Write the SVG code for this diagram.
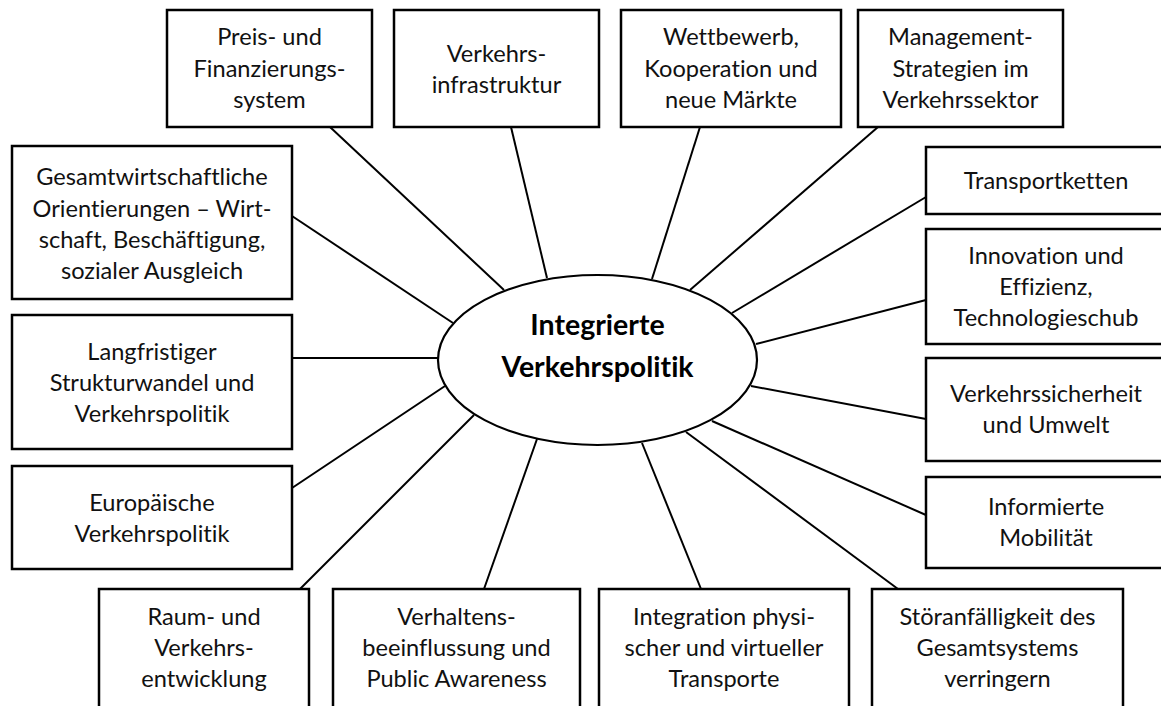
<svg xmlns="http://www.w3.org/2000/svg" width="1161" height="706" viewBox="0 0 1161 706">
  <style>
    .box { fill: #fff; stroke: #000; stroke-width: 2.5; }
    .hub { fill: #fff; stroke: #000; stroke-width: 2.2; }
    .lbl, .hubl { font-family: Lato, "Open Sans", "Liberation Sans", sans-serif; text-anchor: middle; font-variant-ligatures: none; font-feature-settings: "liga" 0, "clig" 0; }
    .lbl { font-size: 23.6px; fill: #111; }
    .hubl { font-size: 28.5px; font-weight: bold; fill: #000; }
    .conn line { stroke: #000; stroke-width: 2; }
  </style>
  <rect width="1161" height="706" fill="#fff"/>

  <!-- connectors: box edge to hub ellipse -->
  <g id="connectors" class="conn">
    <line x1="330" y1="127" x2="504" y2="290"/>
    <line x1="511" y1="127" x2="547" y2="278"/>
    <line x1="700" y1="127" x2="652" y2="279"/>
    <line x1="878" y1="127" x2="690" y2="290"/>
    <line x1="926" y1="197" x2="732" y2="313"/>
    <line x1="926" y1="300" x2="756" y2="344"/>
    <line x1="926" y1="419" x2="751" y2="386"/>
    <line x1="926" y1="515" x2="712" y2="421"/>
    <line x1="898" y1="589" x2="686" y2="432"/>
    <line x1="701" y1="589" x2="642" y2="443"/>
    <line x1="484" y1="589" x2="537" y2="439"/>
    <line x1="300" y1="589" x2="474" y2="415"/>
    <line x1="292" y1="488" x2="445" y2="386"/>
    <line x1="292" y1="358" x2="438" y2="358"/>
    <line x1="292" y1="216" x2="453" y2="323"/>
  </g>

  <g id="hub">
    <ellipse class="hub" cx="597.5" cy="360" rx="159.5" ry="85"/>
    <text class="hubl" x="597.5" y="335">Integrierte</text>
    <text class="hubl" x="597.5" y="377">Verkehrspolitik</text>
  </g>

  <g id="preis">
    <rect class="box" x="167" y="10" width="205" height="117"/>
    <text class="lbl" x="269.5" y="45">Preis- und</text>
    <text class="lbl" x="269.5" y="77">Finanzierungs-</text>
    <text class="lbl" x="269.5" y="108">system</text>
  </g>
  <g id="infrastruktur">
    <rect class="box" x="394" y="10" width="205" height="117"/>
    <text class="lbl" x="496.5" y="61.5">Verkehrs-</text>
    <text class="lbl" x="496.5" y="93">infrastruktur</text>
  </g>
  <g id="wettbewerb">
    <rect class="box" x="621" y="10" width="220" height="117"/>
    <text class="lbl" x="731" y="45">Wettbewerb,</text>
    <text class="lbl" x="731" y="77">Kooperation und</text>
    <text class="lbl" x="731" y="108">neue Märkte</text>
  </g>
  <g id="management">
    <rect class="box" x="858" y="10" width="205" height="117"/>
    <text class="lbl" x="960.5" y="45">Management-</text>
    <text class="lbl" x="960.5" y="77">Strategien im</text>
    <text class="lbl" x="960.5" y="108">Verkehrssektor</text>
  </g>

  <g id="transportketten">
    <rect class="box" x="926" y="147" width="240" height="67"/>
    <text class="lbl" x="1046" y="189">Transportketten</text>
  </g>
  <g id="innovation">
    <rect class="box" x="926" y="229" width="240" height="115"/>
    <text class="lbl" x="1046" y="264">Innovation und</text>
    <text class="lbl" x="1046" y="295">Effizienz,</text>
    <text class="lbl" x="1046" y="326">Technologieschub</text>
  </g>
  <g id="sicherheit">
    <rect class="box" x="926" y="358" width="240" height="103"/>
    <text class="lbl" x="1046" y="402">Verkehrssicherheit</text>
    <text class="lbl" x="1046" y="433">und Umwelt</text>
  </g>
  <g id="mobilitaet">
    <rect class="box" x="926" y="477" width="240" height="91"/>
    <text class="lbl" x="1046" y="515">Informierte</text>
    <text class="lbl" x="1046" y="546">Mobilität</text>
  </g>

  <g id="gesamtwirtschaft">
    <rect class="box" x="12" y="146" width="280" height="153"/>
    <text class="lbl" x="152" y="185">Gesamtwirtschaftliche</text>
    <text class="lbl" x="152" y="216.5">Orientierungen – Wirt-</text>
    <text class="lbl" x="152" y="248">schaft, Beschäftigung,</text>
    <text class="lbl" x="152" y="279">sozialer Ausgleich</text>
  </g>
  <g id="strukturwandel">
    <rect class="box" x="12" y="315" width="280" height="134"/>
    <text class="lbl" x="152" y="360">Langfristiger</text>
    <text class="lbl" x="152" y="391">Strukturwandel und</text>
    <text class="lbl" x="152" y="422">Verkehrspolitik</text>
  </g>
  <g id="europa">
    <rect class="box" x="12" y="466" width="280" height="103"/>
    <text class="lbl" x="152" y="511">Europäische</text>
    <text class="lbl" x="152" y="541.5">Verkehrspolitik</text>
  </g>

  <g id="raum">
    <rect class="box" x="99" y="589" width="210" height="125"/>
    <text class="lbl" x="204" y="625">Raum- und</text>
    <text class="lbl" x="204" y="656">Verkehrs-</text>
    <text class="lbl" x="204" y="687">entwicklung</text>
  </g>
  <g id="verhalten">
    <rect class="box" x="333" y="589" width="247" height="125"/>
    <text class="lbl" x="456.5" y="625">Verhaltens-</text>
    <text class="lbl" x="456.5" y="656">beeinflussung und</text>
    <text class="lbl" x="456.5" y="687">Public Awareness</text>
  </g>
  <g id="integration">
    <rect class="box" x="599" y="589" width="250" height="125"/>
    <text class="lbl" x="724" y="625">Integration physi-</text>
    <text class="lbl" x="724" y="656">scher und virtueller</text>
    <text class="lbl" x="724" y="687">Transporte</text>
  </g>
  <g id="stoeranfaelligkeit">
    <rect class="box" x="872" y="589" width="251" height="125"/>
    <text class="lbl" x="997.5" y="625">Störanfälligkeit des</text>
    <text class="lbl" x="997.5" y="656">Gesamtsystems</text>
    <text class="lbl" x="997.5" y="687">verringern</text>
  </g>
</svg>
